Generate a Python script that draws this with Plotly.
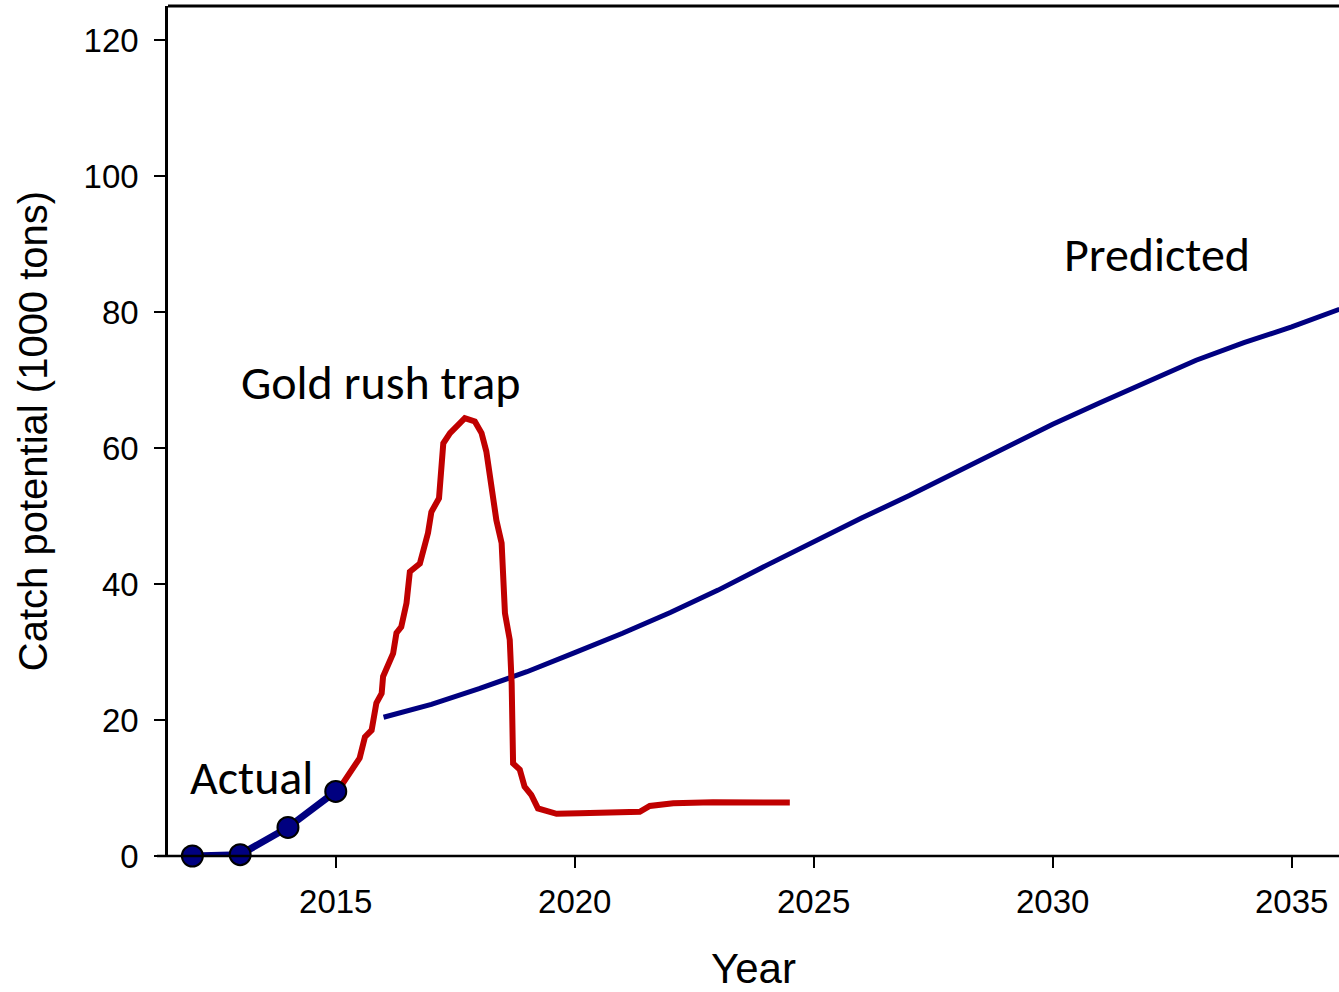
import plotly.graph_objects as go

# Actual catches
actual_years = [2012, 2013, 2014, 2015]
actual_vals = [0.0, 0.2, 4.2, 9.5]

# Gold rush trap trajectory
trap_years = [2015.0, 2015.15, 2015.5, 2015.61, 2015.75, 2015.85, 2015.96, 2015.99,
              2016.2, 2016.27, 2016.37, 2016.48, 2016.55, 2016.76, 2016.93, 2017.0,
              2017.16, 2017.25, 2017.39, 2017.7, 2017.91, 2018.05, 2018.15, 2018.29,
              2018.36, 2018.47, 2018.54, 2018.64, 2018.68, 2018.71, 2018.85, 2018.95,
              2019.09, 2019.23, 2019.62, 2020.1, 2021.36, 2021.57, 2022.06, 2022.89, 2024.5]
trap_vals = [9.5, 10.7, 14.4, 17.5, 18.5, 22.5, 23.9, 26.4,
             29.8, 32.8, 33.7, 37.2, 41.8, 43.0, 47.5, 50.6,
             52.6, 60.7, 62.2, 64.4, 63.9, 62.2, 59.5, 52.8,
             49.4, 46.0, 35.7, 31.8, 25.4, 13.6, 12.7, 10.2,
             9.0, 7.0, 6.2, 6.3, 6.5, 7.35, 7.75, 7.9, 7.85]

# Predicted trajectory
pred_years = list(range(2016, 2037))
pred_vals = [20.4, 22.3, 24.6, 27.1, 29.9, 32.75, 35.8, 39.1, 42.7, 46.3, 49.7,
             53.0, 56.5, 60.0, 63.5, 66.7, 69.8, 72.9, 75.5, 77.8, 80.4]

x_ticks = [2015, 2020, 2025, 2030, 2035]
y_ticks = [0, 20, 40, 60, 80, 100, 120]

NAVY = "#000080"
RED = "#c00000"
ANN_FONT = "Carlito, Lato, 'Open Sans', sans-serif"
AX_FONT = "'Liberation Sans', Arial, sans-serif"

fig = go.Figure()
fig.add_trace(go.Scatter(x=pred_years, y=pred_vals, mode="lines",
                         line=dict(color=NAVY, width=5), cliponaxis=True,
                         showlegend=False))
fig.add_trace(go.Scatter(x=trap_years, y=trap_vals, mode="lines",
                         line=dict(color=RED, width=6), cliponaxis=False,
                         showlegend=False))
fig.add_trace(go.Scatter(x=actual_years, y=actual_vals, mode="lines+markers",
                         line=dict(color=NAVY, width=7),
                         marker=dict(size=21, color=NAVY, line=dict(color="black", width=2)),
                         cliponaxis=False, showlegend=False))

fig.add_annotation(x=2011.91, y=11.5, text="Actual", showarrow=False,
                   xanchor="left", yanchor="middle", font=dict(family=ANN_FONT, size=48, color="black"))
fig.add_annotation(x=2012.98, y=69.6, text="Gold rush trap", showarrow=False,
                   xanchor="left", yanchor="middle", font=dict(family=ANN_FONT, size=48, color="black"))
fig.add_annotation(x=2030.19, y=88.4, text="Predicted", showarrow=False,
                   xanchor="left", yanchor="middle", font=dict(family=ANN_FONT, size=48, color="black"))

# top border and bottom axis line extending left of y axis
fig.add_shape(type="line", xref="paper", yref="paper", x0=0, x1=1, y0=1, y1=1,
              line=dict(color="black", width=3))
fig.add_shape(type="line", xref="paper", yref="paper", x0=-0.0094, x1=1, y0=0, y1=0,
              line=dict(color="black", width=2.5))

fig.update_layout(
    template="none",
    width=1339, height=992,
    margin=dict(l=168, r=0, t=6, b=136),
    plot_bgcolor="white", paper_bgcolor="white",
    font=dict(family=AX_FONT, color="black"),
    xaxis=dict(range=[2011.49, 2035.99], tickvals=x_ticks, showgrid=False, zeroline=False,
               showline=False, ticks="outside", ticklen=11, tickwidth=2, tickcolor="black",
               ticklabelstandoff=5, automargin=False,
               tickfont=dict(size=33), title=dict(text="Year", font=dict(size=42), standoff=35)),
    yaxis=dict(range=[0, 125], tickvals=y_ticks, showgrid=False, zeroline=False,
               showline=True, linewidth=2.5, linecolor="black",
               ticks="outside", ticklen=11, tickwidth=2, tickcolor="black",
               ticklabelstandoff=9, automargin=False,
               tickfont=dict(size=33),
               title=dict(text="Catch potential (1000 tons)", font=dict(size=40), standoff=24)),
)

fig.write_html("out.html", config={"displayModeBar": False},
               post_script="document.body.style.margin='0';")
